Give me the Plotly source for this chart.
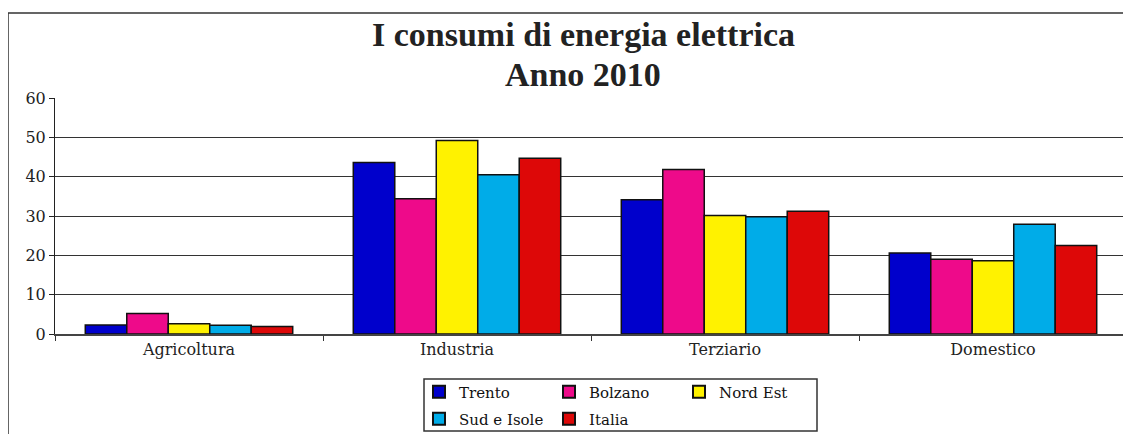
import plotly.graph_objects as go

categories = ["Agricoltura", "Industria", "Terziario", "Domestico"]
trento = [2.3, 43.6, 34.1, 20.6]
bolzano = [5.2, 34.4, 41.8, 19.0]
nord_est = [2.6, 49.2, 30.1, 18.6]
sud_isole = [2.2, 40.5, 29.8, 27.9]
italia = [1.9, 44.7, 31.2, 22.5]
title_lines = ["I consumi di energia elettrica", "Anno 2010"]

series = [
    ("Trento", trento, "#0000CC", "legend"),
    ("Bolzano", bolzano, "#EE0A8A", "legend"),
    ("Nord Est", nord_est, "#FFF200", "legend"),
    ("Sud e Isole", sud_isole, "#00ACE8", "legend2"),
    ("Italia", italia, "#DD0808", "legend2"),
]

# page has an 8px body margin: work in screen pixels and convert
OFF = 8
W, H = 1131 - OFF, 434 - OFF
PL, PR, PT, PB = 55, 1127, 98, 334  # plot area in screen pixels
L, T = PL - OFF, PT - OFF
pw, ph = PR - PL, PB - PT
R, B = W - L - pw, H - T - ph

def px2x(x):
    return (x - OFF - L) / pw

def px2y(y):
    return (T + ph - (y - OFF)) / ph

fig = go.Figure()
for name, vals, col, lg in series:
    fig.add_trace(go.Bar(
        x=categories, y=vals, name=name, legend=lg,
        marker=dict(color=col, line=dict(color="#111111", width=1.5)),
    ))

legend_font = dict(family="DejaVu Serif", size=15, color="#111111")
common_legend = dict(
    orientation="h", xanchor="left", yanchor="middle",
    bgcolor="rgba(0,0,0,0)", borderwidth=0, font=legend_font,
    entrywidth=85, entrywidthmode="pixels", itemsizing="constant",
    tracegroupgap=0,
)

title_font = dict(family="Liberation Serif", size=34, color="#222222")

fig.update_layout(
    width=W, height=H,
    margin=dict(l=L, r=R, t=T, b=B, autoexpand=False),
    paper_bgcolor="white", plot_bgcolor="white",
    barmode="group", bargap=0.226, bargroupgap=0,
    legend=dict(x=px2x(419), y=px2y(392), **common_legend),
    legend2=dict(x=px2x(419), y=px2y(419), **common_legend),
    xaxis=dict(
        type="category", tickson="boundaries", ticks="outside", ticklen=5,
        tickcolor="#333333", showline=True, linecolor="#444444", linewidth=1.5,
        showgrid=False,
        tickfont=dict(family="DejaVu Serif", size=16, color="#222222"),
    ),
    yaxis=dict(
        range=[0, 60], dtick=10, ticks="outside", ticklen=5, tickcolor="#222222",
        showline=True, linecolor="#222222", linewidth=1,
        showgrid=True, gridcolor="#333333", gridwidth=1, zeroline=False,
        tickfont=dict(family="DejaVu Serif", size=16, color="#222222"),
    ),
    showlegend=True,
)

for line, yc in zip(title_lines, [34.5, 74.5]):
    fig.add_annotation(
        text="<b>" + line + "</b>", xref="paper", yref="paper",
        x=px2x(583), y=px2y(yc), xanchor="center", yanchor="middle",
        showarrow=False, font=title_font,
    )

# outer chart frame
fig.add_shape(type="rect", xref="paper", yref="paper",
              x0=px2x(8), x1=px2x(1131 + 20), y0=px2y(434 + 20), y1=px2y(13),
              line=dict(color="#333333", width=1.5), fillcolor="rgba(0,0,0,0)", layer="below")
# legend box
fig.add_shape(type="rect", xref="paper", yref="paper",
              x0=px2x(424), x1=px2x(817), y0=px2y(431), y1=px2y(379),
              line=dict(color="#333333", width=1.5), fillcolor="rgba(0,0,0,0)")

fig.write_html("out.html")
